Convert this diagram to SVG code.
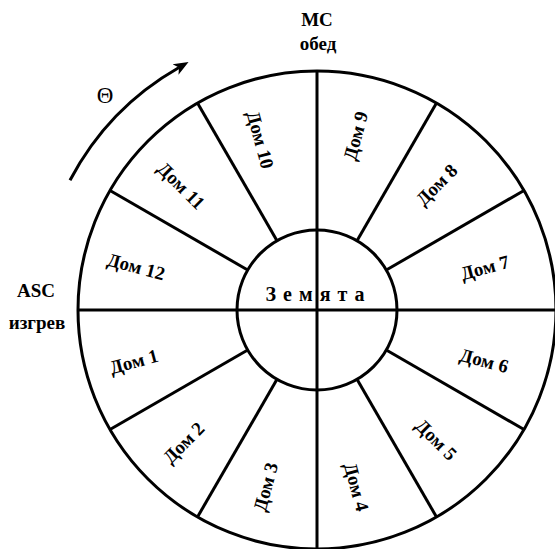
<svg xmlns="http://www.w3.org/2000/svg" width="555" height="549" viewBox="0 0 555 549">
  <style>
    .ln { stroke: #000; stroke-width: 3; fill: none; }
    .lbl { font-family: "Liberation Serif", "Times New Roman", serif; font-weight: bold; font-size: 19px; fill: #000; text-anchor: middle; }
    .sym { font-family: "Liberation Serif", "Times New Roman", serif; font-size: 23px; fill: #000; text-anchor: middle; }
  </style>
  <defs>
    <marker id="ah" markerUnits="userSpaceOnUse" markerWidth="16" markerHeight="14" refX="4" refY="7" orient="auto" viewBox="0 0 16 14">
      <path d="M0,1 L15,7 L0,13 L4,7 z" fill="#000"/>
    </marker>
  </defs>
  <rect width="555" height="549" fill="#fff"/>

  <g id="wheel">
    <circle class="ln" cx="317" cy="310" r="239"/>
    <circle class="ln" cx="317" cy="310" r="80"/>
  </g>

  <g id="connectors">
    <line class="ln" x1="78" y1="310" x2="556" y2="310"/>
    <line class="ln" x1="317" y1="71" x2="317" y2="549"/>
    <line class="ln" x1="386.3" y1="350" x2="524" y2="429.5"/>
    <line class="ln" x1="357" y1="379.3" x2="436.5" y2="517"/>
    <line class="ln" x1="277" y1="379.3" x2="197.5" y2="517"/>
    <line class="ln" x1="247.7" y1="350" x2="110" y2="429.5"/>
    <line class="ln" x1="247.7" y1="270" x2="110" y2="190.5"/>
    <line class="ln" x1="277" y1="240.7" x2="197.5" y2="103"/>
    <line class="ln" x1="357" y1="240.7" x2="436.5" y2="103"/>
    <line class="ln" x1="386.3" y1="270" x2="524" y2="190.5"/>
    <path class="ln" d="M70,180.3 A279,279 0 0,1 179,67.5" marker-end="url(#ah)"/>
  </g>

  <g id="earth">
    <text class="lbl" x="265.5" y="301" style="text-anchor:start;font-size:20px" textLength="99" lengthAdjust="spacing">З е м я т а</text>
  </g>

  <g id="house1"><text class="lbl" transform="translate(134,362) rotate(-15)" x="0" y="6">Дом 1</text></g>
  <g id="house2"><text class="lbl" transform="translate(184,443) rotate(-45)" x="0" y="6">Дом 2</text></g>
  <g id="house3"><text class="lbl" transform="translate(266,487) rotate(-75)" x="0" y="6">Дом 3</text></g>
  <g id="house4"><text class="lbl" transform="translate(356,487) rotate(75)" x="0" y="6">Дом 4</text></g>
  <g id="house5"><text class="lbl" transform="translate(436,440) rotate(45)" x="0" y="6">Дом 5</text></g>
  <g id="house6"><text class="lbl" transform="translate(484,361) rotate(15)" x="0" y="6">Дом 6</text></g>
  <g id="house7"><text class="lbl" transform="translate(485,268) rotate(-15)" x="0" y="6">Дом 7</text></g>
  <g id="house8"><text class="lbl" transform="translate(437,185) rotate(-45)" x="0" y="6">Дом 8</text></g>
  <g id="house9"><text class="lbl" transform="translate(356,136) rotate(-75)" x="0" y="6">Дом 9</text></g>
  <g id="house10"><text class="lbl" transform="translate(260,140) rotate(75)" x="0" y="6">Дом 10</text></g>
  <g id="house11"><text class="lbl" transform="translate(181,186) rotate(45)" x="0" y="6">Дом 11</text></g>
  <g id="house12"><text class="lbl" transform="translate(136,267) rotate(15)" x="0" y="6">Дом 12</text></g>

  <g id="mc">
    <text class="lbl" x="317" y="26">MC</text>
    <text class="lbl" x="318" y="50">обед</text>
  </g>
  <g id="asc">
    <text class="lbl" x="36" y="297">ASC</text>
    <text class="lbl" x="37" y="329">изгрев</text>
  </g>
  <g id="sun">
    <text class="sym" x="105" y="103">Θ</text>
  </g>
</svg>
